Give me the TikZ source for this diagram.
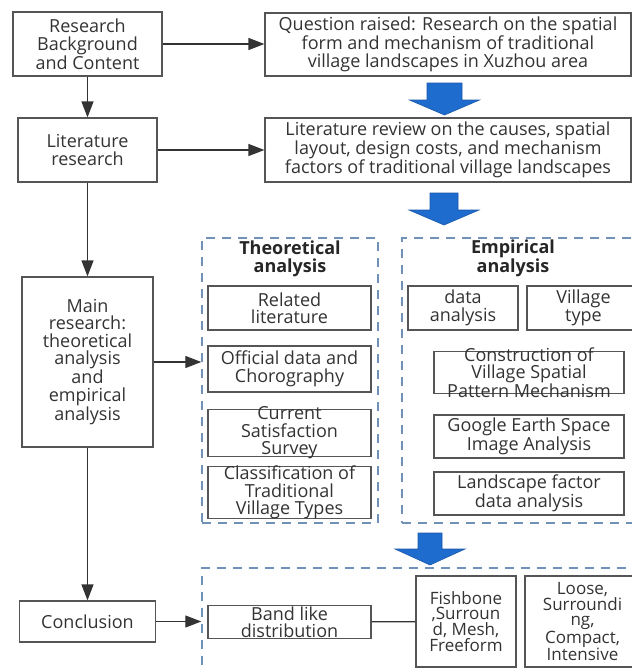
\documentclass[tikz,border=0pt]{standalone}
\usepackage{fontspec}
\setmainfont{Open Sans}
\usepackage{xcolor}
\usetikzlibrary{arrows.meta, positioning}

\definecolor{boxgray}{HTML}{555555}
\definecolor{linegray}{HTML}{333333}
\definecolor{dashblue}{HTML}{7091B8}
\definecolor{arrowblue}{HTML}{1F6CCF}
\definecolor{arrowedge}{HTML}{1A58A8}
\newcommand\boxfont{\fontsize{18}{17.5}\selectfont}
\newcommand\tightfont{\fontsize{17}{15.8}\selectfont}

\begin{document}
\begin{tikzpicture}[x=1pt, y=1pt,
    box/.style={draw=boxgray, line width=1.2pt, align=center, inner sep=0pt,
      font=\boxfont, text=black!80},
    title/.style={align=center, inner sep=0pt, font=\boxfont\bfseries, text=black!85},
    dashbox/.style={draw=dashblue, line width=1.4pt, dash pattern=on 9pt off 7pt, inner sep=0pt},
    link/.style={draw=linegray, line width=1.2pt, ->},
    >={Triangle[length=16pt, width=12pt]},
    plain/.style={draw=linegray, line width=1.2pt},
    bluearrow/.style={fill=arrowblue, draw=arrowedge, line width=0.6pt}]

    \useasboundingbox (0,0) rectangle (632,-670);

    % --- left column ---
    \node[box, minimum width=149pt, minimum height=64pt] (bg) at (87.5,-44) {Research\\Background\\and Content};
    \node[box, minimum width=139pt, minimum height=64pt] (lit) at (87.5,-150) {Literature\\research};
    \node[box, minimum width=131pt, minimum height=170pt] (main) at (87.5,-362)
        {Main\\research:\\theoretical\\analysis\\and\\empirical\\analysis};
    \node[box, minimum width=136pt, minimum height=41pt] (conc) at (87.5,-621.5) {Conclusion};

    % --- right column, top ---
    \node[box, minimum width=366pt, minimum height=63pt] (q) at (448,-44.5)
        {Question raised: Research on the spatial\\form and mechanism of traditional\\village landscapes in Xuzhou area};
    \node[box, minimum width=366pt, minimum height=64pt] (rev) at (448,-150)
        {Literature review on the causes, spatial\\layout, design costs, and mechanism\\factors of traditional village landscapes};

    % --- theoretical analysis ---
    \node[dashbox, minimum width=176pt, minimum height=285pt] (theo) at (290,-380.5) {};
    \node[title] (theot) at (290,-259) {Theoretical\\analysis};
    \node[box, minimum width=163pt, minimum height=44pt] (rel) at (289.5,-308) {Related\\literature};
    \node[box, minimum width=163pt, minimum height=46pt] (off) at (289.5,-369) {Official data and\\Chorography};
    \node[box, minimum width=163pt, inner ysep=-3pt] (cur) at (289.5,-433) {Current\\Satisfaction\\Survey};
    \node[box, minimum width=163pt, inner ysep=-0.5pt] (cls) at (289.5,-492.5) {Classification of\\Traditional\\Village Types};

    % --- empirical analysis ---
    \node[dashbox, minimum width=244pt, minimum height=285pt] (emp) at (524,-380.5) {};
    \node[title] (empt) at (513,-258) {Empirical\\analysis};
    \node[box, minimum width=110pt, minimum height=44pt] (dat) at (463,-308) {data\\analysis};
    \node[box, minimum width=113pt, minimum height=44pt] (vtype) at (583.5,-308) {Village\\type};
    \node[box, minimum width=190pt, inner ysep=-4.5pt] (con) at (529,-372.5)
        {Construction of\\Village Spatial\\Pattern Mechanism};
    \node[box, minimum width=190pt, minimum height=43pt] (gea) at (529,-436.5) {Google Earth Space\\Image Analysis};
    \node[box, minimum width=190pt, minimum height=43pt] (lsf) at (529,-493.5) {Landscape factor\\data analysis};

    % --- results ---
    \node[dashbox, minimum width=440pt, minimum height=120pt] (res) at (422,-628) {};
    \node[box, minimum width=163pt, inner ysep=1pt] (band) at (289.5,-622) {Band like\\distribution};
    \node[box, minimum width=100pt, minimum height=91pt, font=\tightfont] (fish) at (466,-621.5)
        {Fishbone\\,Surroun\\d, Mesh,\\Freeform};
    \node[box, minimum width=115pt, minimum height=91pt, font=\tightfont] (loose) at (582.5,-621.5)
        {Loose,\\Surroundi\\ng,\\Compact,\\Intensive};

    % --- connectors ---
    \draw[link] (bg.east) -- (bg.east -| q.west);
    \draw[link] (bg) -- (lit);
    \draw[link] (lit.east) -- (lit.east -| rev.west);
    \draw[link] (lit) -- (main);
    \draw[link] (main.east) -- (main.east -| theo.west);
    \draw[link] (main) -- (conc);
    \draw[link] (conc.east) -- (conc.east -| res.west);
    \draw[plain] (band) -- (fish);

    % --- big blue arrows ---
    \foreach \cx/\yt/\ym/\yb/\sw/\hw in {444.5/83/100/115/17.5/35, 444/193/210/225/14/35, 430/533/549/565/12/35}{
        \draw[bluearrow] (\cx-\sw,-\yt) -- (\cx+\sw,-\yt) -- (\cx+\sw,-\ym) -- (\cx+\hw,-\ym)
            -- (\cx,-\yb) -- (\cx-\hw,-\ym) -- (\cx-\sw,-\ym) -- cycle;
    }

\end{tikzpicture}
\end{document}
